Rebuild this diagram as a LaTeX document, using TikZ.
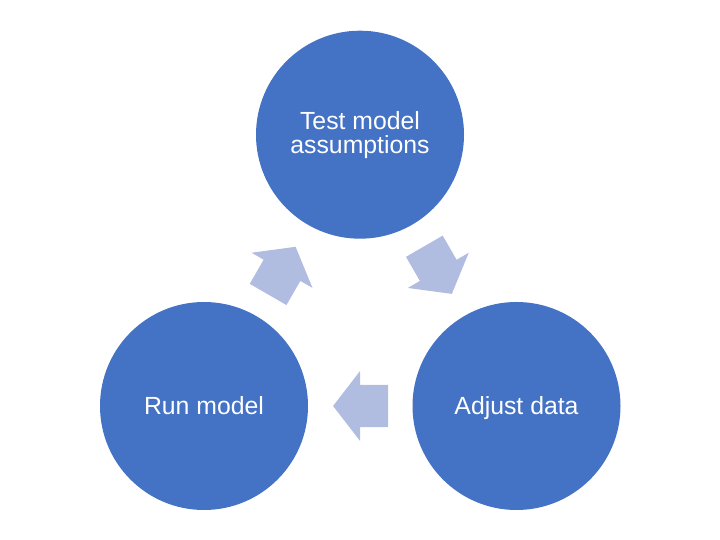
\documentclass[tikz,border=0pt]{standalone}
\usepackage{fontspec}
\setmainfont{Liberation Sans}
\usetikzlibrary{calc,shapes.arrows}
\definecolor{stageblue}{RGB}{68,114,196}
\definecolor{flowblue}{RGB}{176,189,224}
\tikzset{
  stage/.style={circle, fill=stageblue, minimum size=208bp, inner sep=0pt,
    text=white, align=center, font=\fontsize{24.8bp}{23.5bp}\selectfont,
    text height=17.7bp, text depth=0pt},
  flow/.style={single arrow, fill=flowblue, minimum height=55bp, inner xsep=0pt,
    inner ysep=21bp, single arrow head extend=14bp, single arrow tip angle=104.7,
    rotate=#1, xshift=-8.5bp}
}
\begin{document}
\begin{tikzpicture}[x=1bp,y=1bp]
        \useasboundingbox (0,0) rectangle (720,540);
        \node[stage, text height=37bp] (T) at (360,405.3) {Test model\\assumptions};
        \node[stage] (A) at (516.5,134) {Adjust data};
        \node[stage] (R) at (204,134) {Run model};

        \node[flow=-60] (TA) at ($(T)!0.5!(A)$) {};
        \node[flow=180] (AR) at ($(A)!0.5!(R)$) {};
        \node[flow=60] (RT) at ($(R)!0.5!(T)$) {};
      \end{tikzpicture}
\end{document}
